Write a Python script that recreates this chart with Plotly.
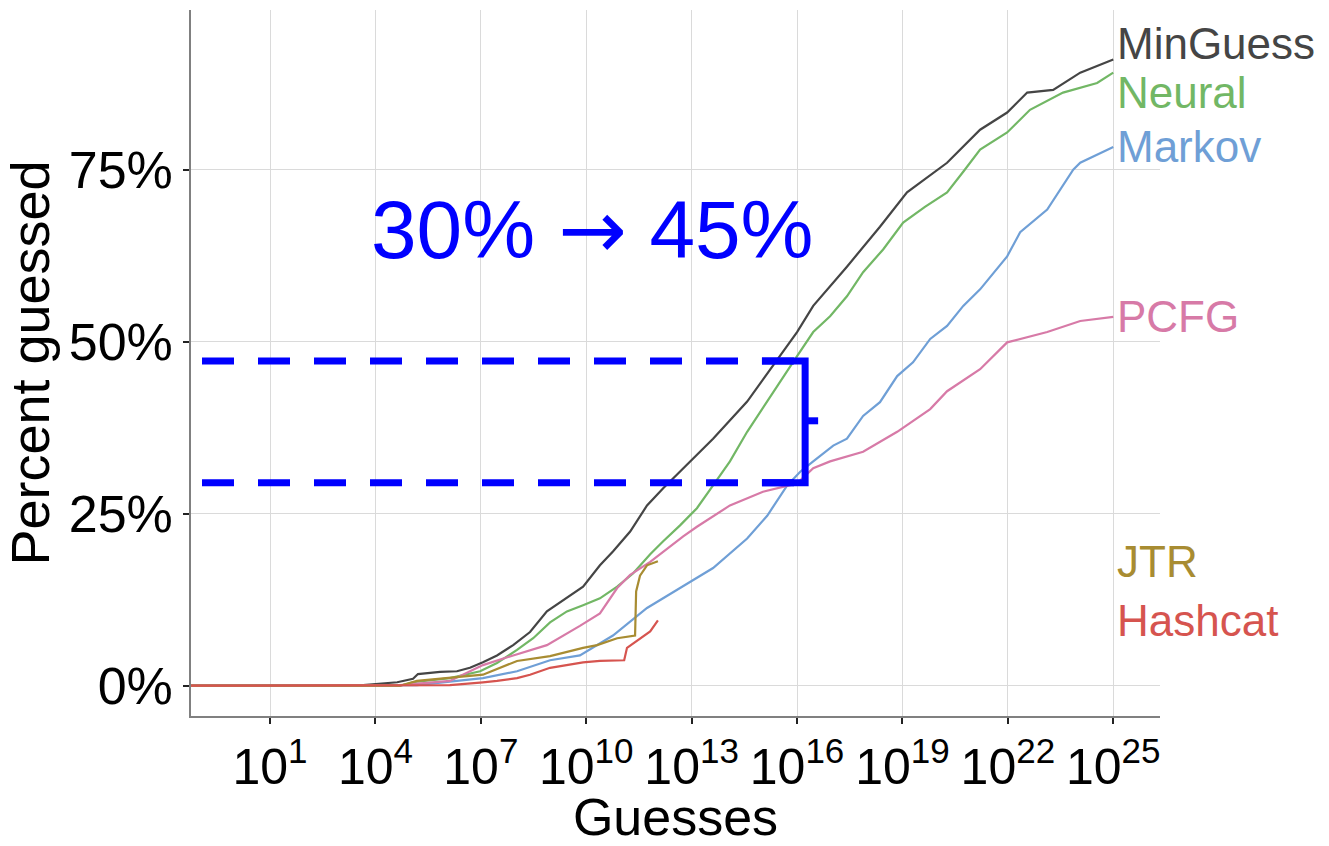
import plotly.graph_objects as go

# Guess counts are stored as log10 exponents; values are percent of passwords guessed.
minguess_log10 = [-1.25, 2.71, 3.65, 4.62, 5.07, 5.21, 5.84, 6.32, 6.69, 7.06, 7.46, 7.92, 8.40, 8.88,
                  9.25, 9.45, 9.91, 10.39, 10.76, 11.25, 11.73, 12.19, 12.67, 13.61, 14.58, 15.32,
                  16.00, 16.46, 17.42, 18.36, 19.13, 20.27, 21.21, 21.98, 22.55, 23.29, 24.06, 25.00]
minguess_pct = [0.0, 0.0, 0.1, 0.5, 1.0, 1.7, 2.0, 2.1, 2.6, 3.4, 4.4, 5.9, 7.8, 10.8,
                12.1, 12.7, 14.4, 17.5, 19.5, 22.4, 26.2, 28.7, 31.1, 35.9, 41.3, 46.5,
                51.4, 55.2, 60.9, 66.7, 71.7, 76.0, 80.8, 83.3, 86.2, 86.6, 89.1, 91.0]

neural_log10 = [-1.25, 4.70, 5.07, 6.12, 6.98, 7.46, 8.03, 8.49, 8.97, 9.45, 9.91, 10.39, 10.88,
                11.33, 11.82, 12.19, 12.67, 13.15, 13.61, 14.09, 14.58, 15.32, 16.00, 16.46,
                16.94, 17.42, 17.88, 18.45, 19.02, 19.64, 20.27, 20.73, 21.21, 21.98, 22.63,
                23.57, 24.54, 25.00]
neural_pct = [0.0, 0.0, 0.5, 1.1, 2.1, 3.3, 5.2, 6.9, 9.2, 10.8, 11.7, 12.7, 14.4,
              16.3, 19.1, 21.0, 23.3, 25.8, 29.1, 32.6, 36.9, 42.7, 47.9, 51.4,
              53.7, 56.6, 60.1, 63.4, 67.3, 69.6, 71.7, 74.7, 77.9, 80.4, 83.7,
              86.2, 87.6, 89.1]

markov_log10 = [-1.25, 5.18, 7.06, 8.03, 8.97, 9.82, 10.76, 11.73, 12.67, 13.61, 14.58, 15.15,
                15.72, 16.09, 16.46, 17.03, 17.42, 17.88, 18.36, 18.85, 19.30, 19.79, 20.27,
                20.73, 21.21, 21.98, 22.35, 23.12, 23.86, 24.06, 25.00]
markov_pct = [0.0, 0.1, 1.1, 2.1, 3.7, 4.4, 7.3, 11.3, 14.2, 17.1, 21.4, 24.7,
              29.1, 31.1, 32.6, 34.9, 35.9, 39.2, 41.2, 45.0, 47.0, 50.4, 52.3,
              55.2, 57.6, 62.4, 65.9, 69.2, 75.0, 76.0, 78.3]

pcfg_log10 = [-1.25, 4.70, 6.12, 7.06, 7.92, 8.88, 9.82, 10.39, 10.88, 11.25, 11.82, 12.19,
              12.76, 13.15, 14.09, 15.03, 16.00, 16.46, 16.94, 17.88, 18.85, 19.79, 20.27,
              21.21, 21.98, 23.12, 24.06, 25.00]
pcfg_pct = [0.0, 0.1, 0.7, 3.0, 4.4, 5.9, 8.7, 10.5, 14.2, 16.1, 18.0, 19.5,
            21.7, 23.1, 26.2, 28.2, 29.4, 31.6, 32.6, 34.0, 36.9, 40.2, 42.8,
            46.0, 49.9, 51.4, 53.0, 53.6]

jtr_log10 = [-1.25, 4.70, 5.18, 7.06, 8.03, 8.97, 9.91, 10.31, 10.88, 11.39, 11.42, 11.53, 11.73, 12.04]
jtr_pct = [0.0, 0.0, 0.7, 1.6, 3.6, 4.3, 5.5, 5.9, 6.9, 7.3, 13.7, 16.0, 17.5, 18.1]

hashcat_log10 = [-1.25, 6.12, 7.06, 7.46, 8.03, 8.40, 8.97, 9.91, 10.39, 11.08, 11.16, 11.53, 11.82, 12.04]
hashcat_pct = [0.0, 0.1, 0.5, 0.7, 1.1, 1.6, 2.6, 3.4, 3.6, 3.7, 5.5, 6.8, 7.9, 9.5]

series_names = ["MinGuess", "Neural", "Markov", "PCFG", "JTR", "Hashcat"]
series_colors = ["#454545", "#72b765", "#6f9fd6", "#d77aa7", "#a88c32", "#d6544f"]
series_log10 = [minguess_log10, neural_log10, markov_log10, pcfg_log10, jtr_log10, hashcat_log10]
series_pct = [minguess_pct, neural_pct, markov_pct, pcfg_pct, jtr_pct, hashcat_pct]
# vertical positions of the end-of-line labels (MinGuess / Neural nudged apart)
label_pct = [93.4, 86.2, 78.4, 53.6, 18.1, 9.5]
label_log10 = 25.0

tick_exponents = [1, 4, 7, 10, 13, 16, 19, 22, 25]
y_ticks = [0, 25, 50, 75]
y_ticktext = ["0%", "25%", "50%", "75%"]

# highlighted gap at 10^16 guesses: Markov vs. Neural
gap_low_pct = 29.5
gap_high_pct = 47.2
gap_mid_pct = 38.5
gap_from, gap_to = "30%", "45%"
dash_start_log10 = -0.936
bracket_start_log10 = 15.0
bracket_log10 = 16.23
bracket_tick_log10 = 16.6

BLUE = "#0000ff"
FONT = "Liberation Sans, Arial, Helvetica, sans-serif"
ARROW_FONT = "DejaVu Sans"


def guesses(exponents):
    return [10.0 ** e for e in exponents]


fig = go.Figure()

for name, color, lx, py in zip(series_names, series_colors, series_log10, series_pct):
    fig.add_trace(go.Scatter(
        x=guesses(lx), y=py, mode="lines", name=name,
        line=dict(color=color, width=2.2), showlegend=False, hoverinfo="skip",
    ))

# dashed reference levels
for level in (gap_high_pct, gap_low_pct):
    fig.add_trace(go.Scatter(
        x=guesses([dash_start_log10, bracket_log10]), y=[level, level], mode="lines",
        line=dict(color=BLUE, width=7, dash="32px,24px"), showlegend=False, hoverinfo="skip",
    ))

# bracket joining the two levels
fig.add_trace(go.Scatter(
    x=guesses([bracket_start_log10, bracket_log10, bracket_log10, bracket_start_log10]),
    y=[gap_high_pct, gap_high_pct, gap_low_pct, gap_low_pct], mode="lines",
    line=dict(color=BLUE, width=7), showlegend=False, hoverinfo="skip",
))
fig.add_trace(go.Scatter(
    x=guesses([bracket_log10, bracket_tick_log10]), y=[gap_mid_pct, gap_mid_pct], mode="lines",
    line=dict(color=BLUE, width=7), showlegend=False, hoverinfo="skip",
))

annotations = []
for name, color, ly in zip(series_names, series_colors, label_pct):
    annotations.append(dict(
        x=label_log10, y=ly, xref="x", yref="y", text=name, showarrow=False,
        xanchor="left", yanchor="middle", xshift=2,
        font=dict(family=FONT, size=44, color=color),
    ))
gap_text = "%s <span style='font-family:%s'>\u2192</span> %s" % (gap_from, ARROW_FONT, gap_to)
annotations.append(dict(
    x=10.19, y=66.3, xref="x", yref="y", text=gap_text, showarrow=False,
    xanchor="center", yanchor="middle",
    font=dict(family=FONT, size=82, color=BLUE),
))

fig.update_layout(
    width=1329, height=846,
    margin=dict(l=191, r=169, t=10, b=128),
    paper_bgcolor="white", plot_bgcolor="white",
    annotations=annotations,
    xaxis=dict(
        type="log", range=[-1.249, 26.33],
        tickmode="array",
        tickvals=guesses(tick_exponents),
        ticktext=["10<sup>%d</sup>" % e for e in tick_exponents],
        tickfont=dict(family=FONT, size=50, color="black"),
        showgrid=True, gridcolor="#dadada", gridwidth=1,
        showline=True, linecolor="#808080", linewidth=1.5,
        ticks="outside", ticklen=6, tickwidth=1.5, tickcolor="#222222",
        zeroline=False,
        title=dict(text="Guesses", font=dict(family=FONT, size=52, color="black"), standoff=5),
    ),
    yaxis=dict(
        range=[-4.4, 98.2],
        tickmode="array", tickvals=y_ticks, ticktext=y_ticktext,
        tickfont=dict(family=FONT, size=52, color="black"),
        showgrid=True, gridcolor="#dadada", gridwidth=1,
        showline=True, linecolor="#808080", linewidth=1.5,
        ticks="outside", ticklen=6, tickwidth=1.5, tickcolor="#222222",
        zeroline=False,
        title=dict(text="Percent guessed", font=dict(family=FONT, size=54, color="black"), standoff=6),
    ),
)

fig.write_html("out.html")
